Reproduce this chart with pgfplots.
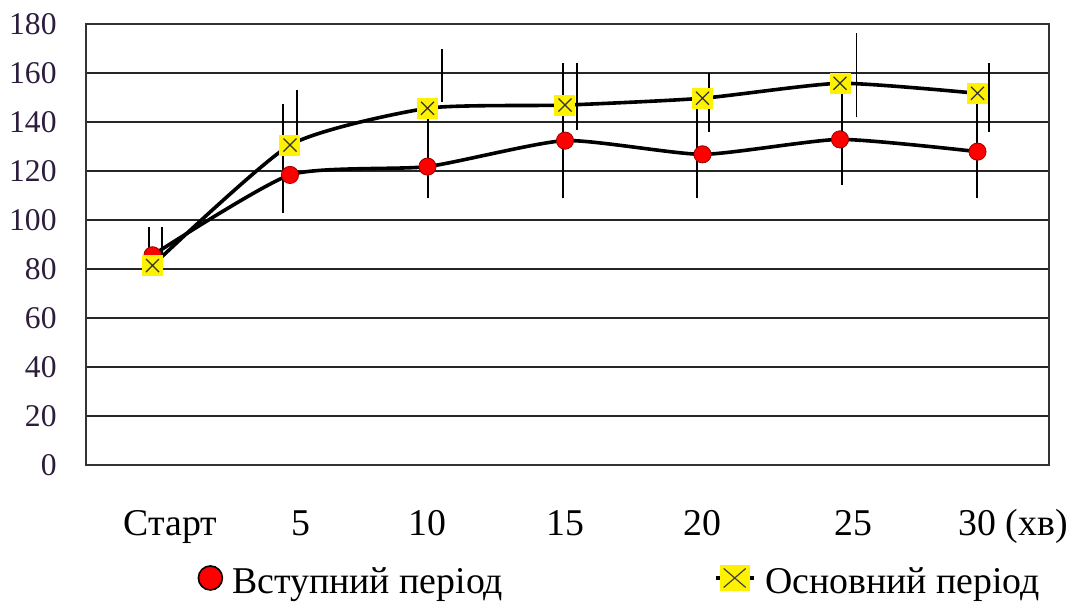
\documentclass[border=0pt]{standalone}
\usepackage{fontspec}
\setmainfont{Liberation Serif}
\usepackage{pgfplots}
\usepackage{pgfplotstable}
\pgfplotsset{compat=1.18}

\definecolor{tickink}{RGB}{45,28,60}

% heart rate, mean values
\pgfplotstableread{
x y
0 85.6
1 118.4
2 121.8
3 132.4
4 126.8
5 132.9
6 127.9
}\vstup

\pgfplotstableread{
x y
0 81.4
1 130.6
2 145.6
3 146.9
4 149.7
5 155.8
6 151.7
}\osnov

% spread of the values: x, lower end, upper end
\pgfplotstableread{
x lo hi
-0.023 80.5 97.1
0.947 102.7 147.3
2.006 108.8 148.0
2.983 108.8 163.9
3.958 108.8 152.5
5.017 114.3 158.5
5.994 108.8 154.0
}\vstuperr

\pgfplotstableread{
x lo hi
0.067 81.4 97.1
1.053 127.0 153.0
2.105 148.3 170.0
3.085 136.7 163.9
4.050 136.0 159.9
5.120 141.9 176.2
6.083 136.0 164.0
}\osnoverr

\begin{document}
\begin{tikzpicture}
\begin{axis}[
  name=ax,
  scale only axis,
  width=481.5bp, height=220.5bp,
  xmin=-0.4836, xmax=6.52,
  ymin=0, ymax=180,
  xtick={0,...,6},
  xticklabels={\hspace*{18bp}Старт, \hspace*{11bp}5, 10, 15, 20, \hspace*{13bp}25, 30\rlap{~(хв)}},
  ytick={0,20,...,180},
  major tick length=0pt,
  ymajorgrids,
  major grid style={black!85, line width=1bp},
  axis line style={black!80, line width=1.1bp},
  /pgf/number format/assume math mode=true,
  xticklabel style={font=\fontsize{18.9bp}{22bp}\selectfont, anchor=base, inner sep=0pt, yshift=-35bp},
  yticklabel style={font=\fontsize{15.8bp}{18bp}\selectfont, text=tickink, anchor=east, inner sep=0pt, xshift=-14.5bp},
  legend columns=2,
  legend style={
    draw=none, fill=none, inner sep=0pt,
    at={(rel axis cs:0.1163,-0.262)}, anchor=west,
    font=\fontsize{18.9bp}{22bp}\selectfont,
    nodes={inner sep=0pt},
    /tikz/every odd column/.append style={column sep=5bp},
    /tikz/every even column/.append style={column sep=105.5bp},
  },
]
% introductory period
\addplot[black, line width=1.8bp, smooth, tension=0.35,
  mark=*, mark size=4.3bp,
  mark options={solid, fill=red, draw=red!60!black, line width=0.4bp},
  legend image code/.code={
    \draw[mark=*, mark size=6bp, mark options={fill=red, draw=black, line width=0.8bp}]
      plot coordinates {(6bp,2bp)};
  }] table[x=x, y=y] {\vstup};
\addlegendentry{Вступний період}

% main period
\addplot[black, line width=1.8bp, smooth, tension=0.35,
  mark=square*, mark size=5bp,
  mark options={solid, fill=yellow, draw=yellow, line width=0bp},
  legend image code/.code={
    \draw[black, line width=1.6bp] (0bp,2bp) -- (19bp,2bp);
    \fill[yellow] (3bp,-3.75bp) rectangle (16bp,7.75bp);
    \draw[black!75, line width=0.6bp] (4bp,-2.75bp) -- (15bp,6.75bp) (4bp,6.75bp) -- (15bp,-2.75bp);
  }] table[x=x, y=y] {\osnov};
\addlegendentry{Основний період}

\addplot[forget plot, only marks, mark=x, mark size=4.6bp,
  mark options={black!80, line width=0.6bp}] table[x=x, y=y] {\osnov};

% whiskers
\addplot[forget plot, draw=none, mark=none,
  error bars/.cd, y dir=plus, y explicit, error mark=none,
  error bar style={draw=black, solid, line width=0.9bp}]
  table[x=x, y=lo, y error expr={\thisrow{hi}-\thisrow{lo}}] {\vstuperr};
\addplot[forget plot, draw=none, mark=none,
  error bars/.cd, y dir=plus, y explicit, error mark=none,
  error bar style={draw=black, solid, line width=0.9bp}]
  table[x=x, y=lo, y error expr={\thisrow{hi}-\thisrow{lo}}] {\osnoverr};
\end{axis}
\pgfresetboundingbox
\path ([shift={(-43bp,-69bp)}]ax.south west) rectangle ([shift={(9.5bp,12bp)}]ax.north east);
\end{tikzpicture}
\end{document}
